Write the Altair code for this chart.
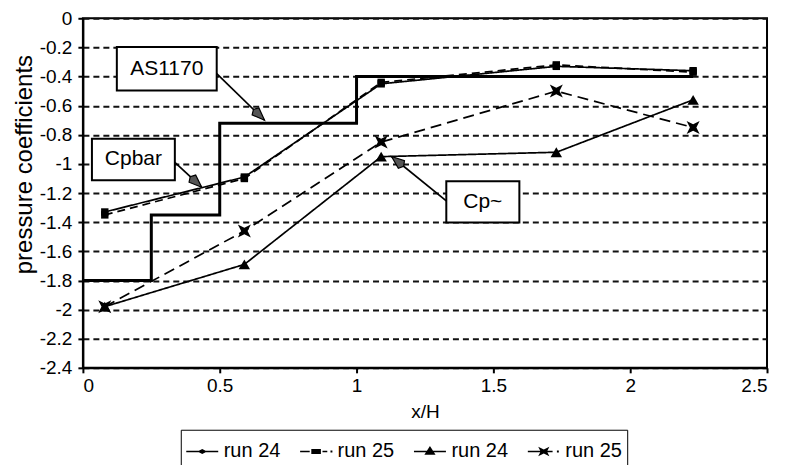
import math
import altair as alt
import pandas as pd

# ---------------- data ----------------
x_pts = [0.08, 0.59, 1.09, 1.73, 2.23]
cpbar_run24 = [-1.33, -1.09, -0.45, -0.33, -0.36]
cpbar_run25 = [-1.35, -1.10, -0.44, -0.32, -0.37]
cptilde_run24 = [-1.98, -1.69, -0.95, -0.92, -0.56]
cptilde_run25 = [-1.98, -1.46, -0.85, -0.50, -0.75]

as1170_x = [0.0, 0.25, 0.5, 1.0, 2.23]
as1170_y = [-1.80, -1.35, -0.72, -0.40, -0.40]

series_names = ["Cpbar run 24", "Cpbar run 25", "Cp~ run 24", "Cp~ run 25"]
series_values = [cpbar_run24, cpbar_run25, cptilde_run24, cptilde_run25]

y_ticks = [0, -0.2, -0.4, -0.6, -0.8, -1, -1.2, -1.4, -1.6, -1.8, -2, -2.2, -2.4]
x_ticks = [0, 0.5, 1, 1.5, 2, 2.5]

box_labels = ["AS1170", "Cpbar", "Cp~"]
box_x1 = [0.124, 0.033, 1.328]
box_x2 = [0.489, 0.336, 1.595]
box_y1 = [-0.197, -0.827, -1.119]
box_y2 = [-0.495, -1.112, -1.403]
arrow_x1 = [0.489, 0.336, 1.328]
arrow_y1 = [-0.38, -0.99, -1.254]
arrow_x2 = [0.664, 0.434, 1.128]
arrow_y2 = [-0.70, -1.16, -0.949]

# ---------------- layout / style ----------------
W, H = 685, 350
PX_X = W / 2.5
PX_Y = H / 2.4
FONT = "Liberation Sans"
HEAD_SIZE = 380

rows = []
for name, vals in zip(series_names, series_values):
    for xv, yv in zip(x_pts, vals):
        rows.append({"series": name, "x": xv, "y": yv})
df = pd.DataFrame(rows)

df_as = pd.DataFrame({"x": as1170_x, "y": as1170_y})

df_box = pd.DataFrame({
    "label": box_labels,
    "x1": box_x1, "x2": box_x2, "y1": box_y1, "y2": box_y2,
})
df_box["xc"] = (df_box["x1"] + df_box["x2"]) / 2
df_box["yc"] = (df_box["y1"] + df_box["y2"]) / 2

heads = []
for a, b, c, d in zip(arrow_x1, arrow_y1, arrow_x2, arrow_y2):
    dx = (c - a) * PX_X
    dy = -(d - b) * PX_Y
    L = math.hypot(dx, dy)
    ux, uy = dx / L, dy / L
    ang = math.degrees(math.atan2(ux, -uy)) % 360
    r = math.sqrt(HEAD_SIZE) / 2
    heads.append({"hx": c - r * ux / PX_X, "hy": d + r * uy / PX_Y, "angle": ang})
df_arrow = pd.DataFrame({"x1": arrow_x1, "y1": arrow_y1, "x2": arrow_x2, "y2": arrow_y2})
df_head = pd.DataFrame(heads)

xscale = alt.Scale(domain=[0, 2.5], nice=False, zero=False)
yscale = alt.Scale(domain=[-2.4, 0], nice=False, zero=False)

x_axis = alt.Axis(values=x_ticks, title="x/H", grid=False, tickSize=5, tickWidth=2,
                  labelPadding=4, labelFontSize=19, titleFontSize=19,
                  labelExpr="format(datum.value, '~g')",
                  titleFontWeight="normal", titleY=50, titleBaseline="alphabetic")
y_axis = alt.Axis(values=y_ticks, title="pressure coefficients", grid=True,
                  gridDash=[6, 4], gridWidth=2, gridColor="#111111",
                  tickSize=5, tickWidth=2, labelPadding=6, labelFontSize=19,
                  labelExpr="datum.value == 0 ? '0' : '-' + format(-datum.value, '~g')",
                  titleFontSize=24, titleFontWeight="normal",
                  titleX=-58, titleY=146, titleBaseline="middle")


def enc(xf="x", yf="y"):
    return dict(x=alt.X(f"{xf}:Q", scale=xscale, axis=x_axis),
                y=alt.Y(f"{yf}:Q", scale=yscale, axis=y_axis))


step = alt.Chart(df_as).mark_line(interpolate="step-after", color="black",
                                  strokeWidth=3).encode(**enc())

lines = alt.Chart(df).mark_line(color="black", strokeWidth=1.7).encode(
    **enc(),
    detail="series:N",
    strokeDash=alt.StrokeDash("series:N",
                              scale=alt.Scale(domain=series_names,
                                              range=[[1, 0], [8, 5], [1, 0], [11, 6]]),
                              legend=None),
)

bowtie = "M-1,-1L0,-0.5L1,-1L0.5,0L1,1L0,0.5L-1,1L-0.5,0Z"
marker_shapes = ["square", "square", "triangle-up", bowtie]
marker_sizes = [55, 55, 130, 170]
point_layers = []
for name, shp, sz in zip(series_names, marker_shapes, marker_sizes):
    point_layers.append(
        alt.Chart(df[df["series"] == name]).mark_point(
            filled=True, color="black", opacity=1, shape=shp, size=sz
        ).encode(**enc())
    )

# legend symbols: line + marker drawn as filled paths (all clockwise)
legend_paths = [
    "M-1,-0.05H1V0.05H-1ZM-0.3,0L0,-0.16L0.3,0L0,0.16Z",
    "M-1,-0.05H-0.4V0.05H-1ZM-0.3,-0.16H0.3V0.16H-0.3ZM0.4,-0.05H0.7V0.05H0.4ZM0.9,-0.06H1.02V0.06H0.9Z",
    "M-1,-0.05H1V0.05H-1ZM-0.35,0.2L0,-0.35L0.35,0.2Z",
    "M-1,-0.05H0.55V0.05H-1ZM0.82,-0.06H0.94V0.06H0.82ZM-0.35,-0.3L0,-0.12L0.35,-0.3L0.2,0L0.35,0.3L0,0.12L-0.35,0.3L-0.2,0Z",
]
legend_layer = alt.Chart(df).mark_point(filled=True, fill="black", stroke="black",
                                        strokeWidth=1, opacity=0).encode(
    **enc(),
    shape=alt.Shape("series:N",
                    scale=alt.Scale(domain=series_names, range=legend_paths),
                    legend=alt.Legend(
                        title=None, orient="none", legendX=98, legendY=412,
                        direction="horizontal", columns=4,
                        labelExpr="replace(replace(datum.label, 'Cpbar ', ''), 'Cp~ ', '')",
                        labelFontSize=20, labelFont=FONT, labelColor="black",
                        symbolSize=1024, symbolStrokeWidth=0.5,
                        symbolFillColor="black", symbolStrokeColor="black",
                        symbolOpacity=1, columnPadding=18, labelOffset=5,
                        padding=5, strokeColor="black")),
)

boxes = alt.Chart(df_box).mark_rect(fill="white", stroke="black", strokeWidth=2).encode(
    x=alt.X("x1:Q", scale=xscale, axis=x_axis), x2="x2:Q",
    y=alt.Y("y1:Q", scale=yscale, axis=y_axis), y2="y2:Q",
)
box_text = alt.Chart(df_box).mark_text(fontSize=21, font=FONT, color="black").encode(
    **enc("xc", "yc"),
    text="label:N",
)
arrows = alt.Chart(df_arrow).mark_rule(color="black", strokeWidth=1.7).encode(
    x=alt.X("x1:Q", scale=xscale, axis=x_axis), x2="x2:Q",
    y=alt.Y("y1:Q", scale=yscale, axis=y_axis), y2="y2:Q",
)
arrow_head = "M0,-1L0.5,0.3L0,0.6L-0.5,0.3Z"
heads_layer = alt.Chart(df_head).mark_point(shape=arrow_head, filled=False, fill="#555555",
                                            stroke="black", strokeWidth=1.2, size=HEAD_SIZE,
                                            opacity=1).encode(
    **enc("hx", "hy"),
    angle=alt.Angle("angle:Q", scale=None),
)

chart = alt.layer(step, lines, *point_layers, legend_layer, boxes, box_text, arrows,
                  heads_layer).resolve_scale(
    shape="independent"
).properties(
    width=W, height=H,
    autosize=alt.AutoSizeParams(type="none"),
    padding={"left": 75, "top": 10, "right": 12, "bottom": 97},
).configure(
    font=FONT,
).configure_view(
    stroke="black", strokeWidth=2,
).configure_axis(
    domainColor="black", domainWidth=2, tickColor="black", labelColor="black",
    titleColor="black", labelFont=FONT, titleFont=FONT,
)

chart.save("out.html", embed_options={"renderer": "svg", "actions": False})
